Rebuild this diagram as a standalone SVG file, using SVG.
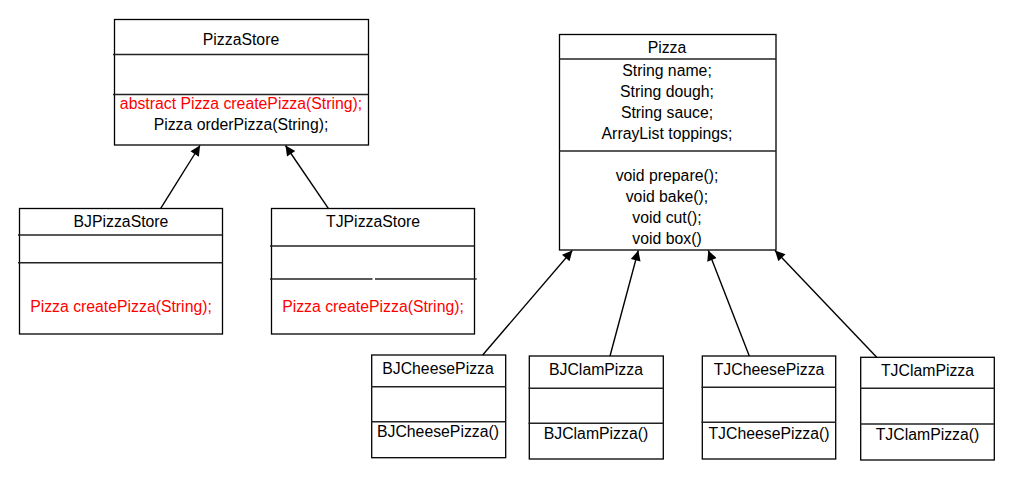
<svg xmlns="http://www.w3.org/2000/svg" width="1010" height="498" viewBox="0 0 1010 498">
<style>
.box{fill:#fff;stroke:#000;stroke-width:1.3}
.div{stroke:#222;stroke-width:1.5;fill:none}
.t{font-family:"Liberation Sans",Arial,sans-serif;font-size:15.8px;fill:#000;text-anchor:middle}
.r{fill:#ff0000}
.edge{stroke:#000;stroke-width:1.4;fill:none;marker-end:url(#arr)}
</style>
<defs>
<marker id="arr" viewBox="0 0 10 10" refX="10" refY="5" markerWidth="12" markerHeight="10" markerUnits="userSpaceOnUse" orient="auto">
<path d="M0,0 L10,5 L0,10 z" fill="#000"/>
</marker>
</defs>
<rect width="1010" height="498" fill="#fff"/>

<g id="PizzaStore">
<rect class="box" x="114.5" y="19.5" width="254" height="125.5"/>
<line class="div" x1="113" y1="54.5" x2="368.5" y2="54.5"/>
<line class="div" x1="113" y1="94.5" x2="368.5" y2="94.5"/>
<text class="t" x="241" y="45">PizzaStore</text>
<text class="t r" x="241" y="108.5">abstract Pizza createPizza(String);</text>
<text class="t" x="241" y="130">Pizza orderPizza(String);</text>
</g>

<g id="BJPizzaStore">
<rect class="box" x="19.5" y="208.5" width="203" height="125.5"/>
<line class="div" x1="18" y1="235" x2="222.5" y2="235"/>
<line class="div" x1="18" y1="262.7" x2="222.5" y2="262.7"/>
<text class="t" x="121" y="227">BJPizzaStore</text>
<text class="t r" x="121" y="312">Pizza createPizza(String);</text>
</g>

<g id="TJPizzaStore">
<rect class="box" x="271.5" y="208.5" width="203" height="125.5"/>
<line class="div" x1="270" y1="246" x2="474.5" y2="246"/>
<line class="div" x1="270" y1="279" x2="372.5" y2="279"/>
<line class="div" x1="375" y1="279" x2="476.7" y2="279"/>
<text class="t" x="373" y="227">TJPizzaStore</text>
<text class="t r" x="373" y="312">Pizza createPizza(String);</text>
</g>

<g id="Pizza">
<rect class="box" x="559.5" y="34.5" width="216.5" height="215.5"/>
<line class="div" x1="559.5" y1="59" x2="776" y2="59"/>
<line class="div" x1="559.5" y1="151" x2="776" y2="151"/>
<text class="t" x="667" y="52.5">Pizza</text>
<text class="t" x="667" y="75.5">String name;</text>
<text class="t" x="667" y="96.5">String dough;</text>
<text class="t" x="667" y="117.5">String sauce;</text>
<text class="t" x="667" y="138.5">ArrayList toppings;</text>
<text class="t" x="667" y="180.5">void prepare();</text>
<text class="t" x="667" y="202">void bake();</text>
<text class="t" x="667" y="223">void cut();</text>
<text class="t" x="667" y="244">void box()</text>
</g>

<g id="BJCheesePizza">
<rect class="box" x="371.7" y="355" width="134" height="102.7"/>
<line class="div" x1="371" y1="386.7" x2="505.7" y2="386.7"/>
<line class="div" x1="371" y1="421.7" x2="505.7" y2="421.7"/>
<text class="t" x="438" y="373.5">BJCheesePizza</text>
<text class="t" x="438" y="437">BJCheesePizza()</text>
</g>

<g id="BJClamPizza">
<rect class="box" x="529.3" y="356" width="134" height="103"/>
<line class="div" x1="528.5" y1="388.3" x2="663.3" y2="388.3"/>
<line class="div" x1="528.5" y1="423.3" x2="663.3" y2="423.3"/>
<text class="t" x="596" y="374.5">BJClamPizza</text>
<text class="t" x="596" y="438.5">BJClamPizza()</text>
</g>

<g id="TJCheesePizza">
<rect class="box" x="702.3" y="356" width="133.4" height="103"/>
<line class="div" x1="701.5" y1="387.3" x2="835.7" y2="387.3"/>
<line class="div" x1="701.5" y1="422.3" x2="835.7" y2="422.3"/>
<text class="t" x="769" y="374.5">TJCheesePizza</text>
<text class="t" x="769" y="438.5">TJCheesePizza()</text>
</g>

<g id="TJClamPizza">
<rect class="box" x="860.7" y="357.3" width="133.6" height="102.7"/>
<line class="div" x1="860" y1="388.3" x2="994.3" y2="388.3"/>
<line class="div" x1="860" y1="424" x2="994.3" y2="424"/>
<text class="t" x="927.5" y="375.5">TJClamPizza</text>
<text class="t" x="927.5" y="440">TJClamPizza()</text>
</g>

<g id="connectors">
<line class="edge" x1="160.7" y1="208.3" x2="200" y2="145.5"/>
<line class="edge" x1="328.3" y1="208.3" x2="285.5" y2="145.5"/>
<line class="edge" x1="482.7" y1="355" x2="572.3" y2="250.5"/>
<line class="edge" x1="610" y1="356" x2="638.3" y2="250.5"/>
<line class="edge" x1="749.3" y1="356" x2="708.3" y2="250.5"/>
<line class="edge" x1="876.7" y1="357.3" x2="775" y2="250.5"/>
</g>
</svg>
